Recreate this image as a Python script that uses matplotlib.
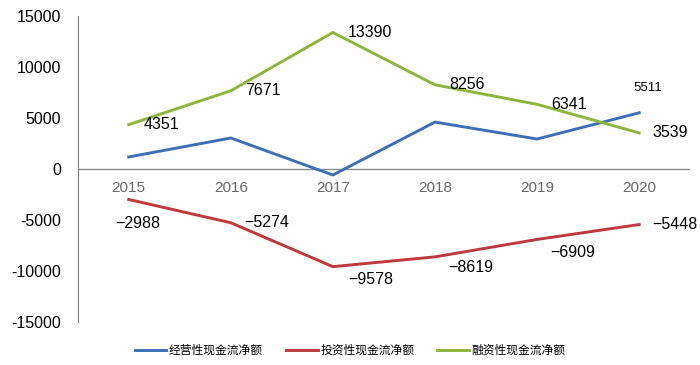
import matplotlib
matplotlib.use("Agg")
import matplotlib.pyplot as plt

plt.rcParams['font.family'] = ['Liberation Sans', 'Noto Sans CJK SC', 'DejaVu Sans']

years = ['2015', '2016', '2017', '2018', '2019', '2020']
operating = [1180, 3040, -590, 4600, 2940, 5511]
investing = [-2988, -5274, -9578, -8619, -6909, -5448]
financing = [4351, 7671, 13390, 8256, 6341, 3539]
series_names = ['经营性现金流净额', '投资性现金流净额', '融资性现金流净额']
yticks = [-15000, -10000, -5000, 0, 5000, 10000, 15000]

c_blue = '#3D6FB6'
c_red = '#C0393A'
c_green = '#8DB53C'

fig = plt.figure(figsize=(7, 3.65), dpi=100)
ax = fig.add_axes([0.111, 0.118, 0.875, 0.838])
x = list(range(len(years)))

ax.plot(x, operating, color=c_blue, lw=2.1, label=series_names[0])
ax.plot(x, investing, color=c_red, lw=2.1, label=series_names[1])
ax.plot(x, financing, color=c_green, lw=2.1, label=series_names[2])

ax.set_xlim(-0.5, 5.5)
ax.set_ylim(-15000, 15000)
ax.set_yticks(yticks)
ax.set_yticklabels([str(v) for v in yticks], fontsize=11.5)
ax.tick_params(axis='y', length=0, pad=12)
ax.set_xticks([])
for s in ['top', 'right', 'bottom']:
    ax.spines[s].set_visible(False)
ax.spines['left'].set_color('#7F7F7F')
ax.spines['left'].set_linewidth(0.8)
ax.axhline(0, color='#8C8C8C', lw=1.0, zorder=1)

for i, yr in enumerate(years):
    ax.text(i, -1900, yr, ha='center', va='center', fontsize=11, color='#666666')

# data labels (offsets in points)
green_off = [(11, 0), (10, 0), (11, 0), (10, 0), (10, 0), (9.5, 0)]
for i, v in enumerate(financing):
    dx, dy = green_off[i]
    ax.annotate(str(v), (i, v), xytext=(dx, dy), textcoords='offset points',
                ha='left', va='center', fontsize=11.5, color='black')

red_off = [(-10, -17), (10, 0), (11, -9.5), (9.5, -8), (9.5, -9.5), (9.5, 0)]
for i, v in enumerate(investing):
    dx, dy = red_off[i]
    ax.annotate(str(v).replace('-', '\u2212'), (i, v), xytext=(dx, dy),
                textcoords='offset points', ha='left', va='center', fontsize=11.5, color='black')

ax.annotate(str(operating[-1]), (5, operating[-1]), xytext=(6, 18), textcoords='offset points',
            ha='center', va='center', fontsize=9.5, color='black')

leg = fig.legend(loc='center', bbox_to_anchor=(0.5, 0.04), ncol=3, frameon=False,
                 handlelength=2.7, columnspacing=1.95, handletextpad=0.2,
                 prop={'family': ['Noto Sans CJK SC', 'DejaVu Sans'], 'size': 8.5})

fig.savefig('out.png', dpi=100)
